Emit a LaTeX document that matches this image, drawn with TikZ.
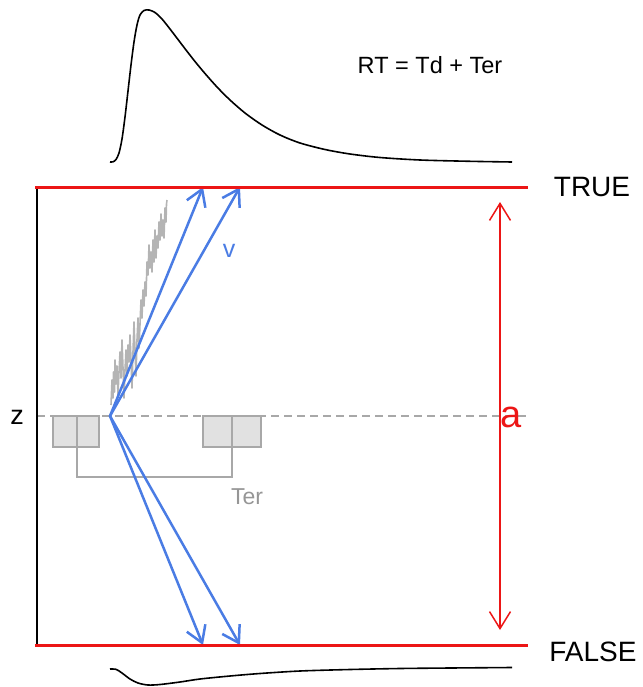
\documentclass[tikz,border=0pt]{standalone}
\usepackage{fontspec}
\setmainfont{Liberation Sans}
\usetikzlibrary{arrows.meta}
\definecolor{bndred}{RGB}{236,22,22}
\definecolor{vblue}{RGB}{74,124,228}
\definecolor{grayline}{RGB}{168,168,168}
\definecolor{boxfill}{RGB}{225,225,225}
\definecolor{noisegray}{RGB}{180,180,180}
\definecolor{tergray}{RGB}{150,150,150}
\begin{document}
\begin{tikzpicture}[x=1pt,y=-1pt,
  bound/.style={bndred, line width=3pt},
  drift/.style={vblue, line width=2.5pt, line cap=round,
    -{Straight Barb[length=16pt,width=20pt]}},
  boxst/.style={draw=grayline, fill=boxfill, line width=1.5pt},
  bracketst/.style={grayline, line width=1.5pt},
  density/.style={black, line width=1.6pt},
  lbl/.style={inner sep=0pt, anchor=center},
  noise/.style={noisegray, line width=1.6pt, line join=round}]
\useasboundingbox (0,0) rectangle (642,687);

% key coordinates
\coordinate (start) at (110,416);
\coordinate (up1) at (203,187);
\coordinate (up2) at (240,187);
\coordinate (lo1) at (203,645);
\coordinate (lo2) at (240,645);
\coordinate (TL) at (35,187);
\coordinate (TR) at (528,187);
\coordinate (BL) at (35,645);
\coordinate (BR) at (528,645);
\coordinate (axTop) at (37,187);
\coordinate (axBot) at (37,645);
\coordinate (zL) at (37,416);
\coordinate (zR) at (529,416);
\coordinate (aTop) at (500,202);
\coordinate (aBot) at (500,630);

% top RT density
\draw[density] plot[smooth, tension=0.5] coordinates {
 (110,162) (113,161.8) (116,159.5) (119,153) (122,139) (125,117) (128,91)
 (131,65) (134,42) (137,25) (140,15) (144,10.5) (149,10) (155,12.5) (162,19)
 (170,29) (178,39.5) (186,50) (195,61.5) (205,73.5) (217,87) (230,100)
 (245,113) (262,125) (280,135) (300,143) (325,149.5) (350,154) (380,157.5)
 (420,160) (470,161.3) (512,162)};

% bottom density
\draw[density] plot[smooth, tension=0.5] coordinates {
 (110,669) (116,669.3) (122,673) (130,679) (138,683) (148,685) (160,684.5)
 (180,682) (200,679) (230,676) (260,673.5) (300,671) (350,669.5) (400,668.5)
 (450,668) (512,667.5)};

% text
\node[lbl, font=\fontsize{23.5}{26}\selectfont] (rt) at (430,65) {RT = Td + Ter};
\node[lbl, font=\fontsize{28}{30}\selectfont] (true) at (592,187.5) {TRUE};
\node[lbl, font=\fontsize{28}{30}\selectfont] (false) at (593,652) {FALSE};
\node[lbl, font=\fontsize{27}{30}\selectfont] (z) at (17,417) {z};

% starting point line
\draw[grayline, line width=1.5pt, dash pattern=on 8pt off 5pt] (zL) -- (zR);

% left axis
\draw[black, line width=1.5pt] (axTop) -- (axBot);

% Ter boxes
\draw[boxst] (53,416) rectangle (77,447);
\draw[boxst] (77,416) rectangle (99,447);
\draw[boxst] (203,416) rectangle (232,447);
\draw[boxst] (232,416) rectangle (261,447);
\draw[bracketst] (77,447) -- (77,477) -- (232,477) -- (232,447);
\node[lbl, text=tergray, font=\fontsize{23}{26}\selectfont] (ter) at (247,497) {Ter};

% noisy evidence path
\draw[noise] plot coordinates {
 (111,405) (112,380) (113,398) (113.5,372) (114.5,392) (115,360) (116,384)
 (117,366) (118,395) (119,372) (120,352) (121,378) (122,340) (123,368)
 (124,398) (125,370) (126,350) (127,376) (128,345) (129,362) (130,335)
 (131,360) (132,388) (133,352) (134,322) (135,350) (136,376) (137,340)
 (138,318) (139,348) (140,324) (141,300) (142,318) (143,290) (144,306)
 (145,282) (146,296) (147,262) (148,275) (149,245) (150,268) (151,252)
 (152,272) (153,240) (154,262) (155,230) (156,258) (157,236) (158,248)
 (159,222) (160,240) (161,214) (162,236) (163,220) (164,238) (165,208)
 (166,222) (166.5,204) (167,200)};

% drift arrows
\draw[drift] (start) -- (up1);
\draw[drift] (start) -- (up2);
\draw[drift] (start) -- (lo1);
\draw[drift] (start) -- (lo2);
\node[lbl, text=vblue, font=\fontsize{25}{28}\selectfont] (v) at (229,251) {v};

% boundaries
\draw[bound] (TL) -- (TR);
\draw[bound] (BL) -- (BR);

% boundary separation
\draw[bndred, line width=1.5pt, {Straight Barb[length=17pt,width=21pt]}-{Straight Barb[length=17pt,width=21pt]}] (aTop) -- (aBot);
\node[lbl, text=bndred, font=\fontsize{38}{40}\selectfont] (a) at (511,417) {a};
\end{tikzpicture}
\end{document}
